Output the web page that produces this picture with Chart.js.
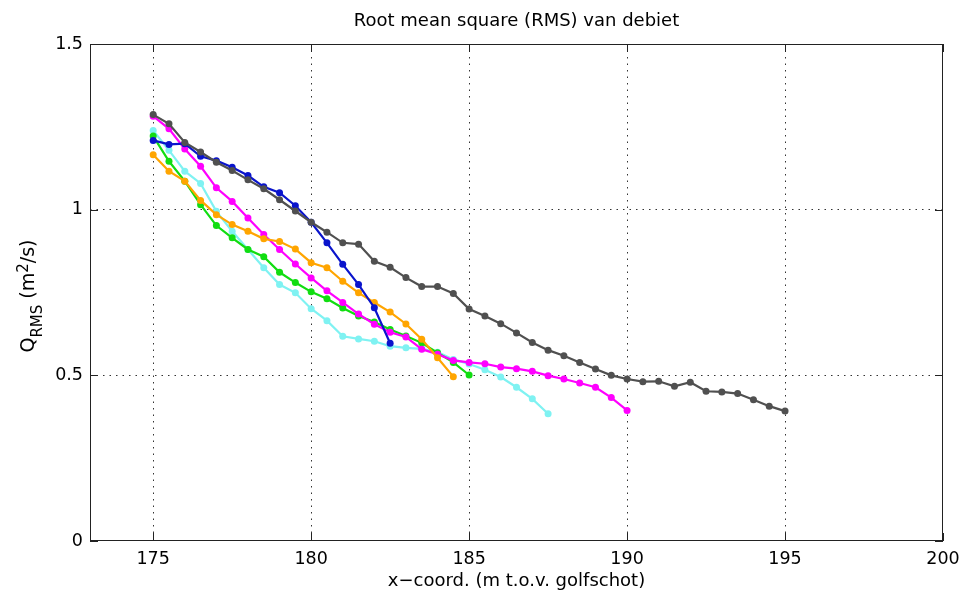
<!DOCTYPE html>
<html>
<head>
<meta charset="utf-8">
<title>Root mean square (RMS) van debiet</title>
<script src="https://cdn.jsdelivr.net/npm/chart.js@4/dist/chart.umd.min.js"></script>
<style>
    html, body { margin: 0; padding: 0; background: #fff; }
    #wrap { width: 963px; height: 596px; }
</style>
</head>
<body>
<div id="wrap"><canvas id="grafikRms" width="963" height="596"></canvas></div>
<script>
// =====================================================
// DATA
// =====================================================
const xPos = [175, 175.5, 176, 176.5, 177, 177.5, 178, 178.5, 179, 179.5,
              180, 180.5, 181, 181.5, 182, 182.5, 183, 183.5, 184, 184.5,
              185, 185.5, 186, 186.5, 187, 187.5, 188, 188.5, 189, 189.5,
              190, 190.5, 191, 191.5, 192, 192.5, 193, 193.5, 194, 194.5, 195];

const qGrijs = [1.287, 1.259, 1.203, 1.174, 1.143, 1.118, 1.090, 1.063, 1.030, 0.996,
                0.962, 0.932, 0.900, 0.896, 0.844, 0.826, 0.795, 0.768, 0.768, 0.747,
                0.700, 0.679, 0.656, 0.628, 0.599, 0.576, 0.559, 0.539, 0.519, 0.500,
                0.489, 0.481, 0.482, 0.467, 0.479, 0.452, 0.450, 0.445, 0.426, 0.407, 0.392];

const qBlauw = [1.209, 1.197, 1.199, 1.161, 1.148, 1.128, 1.103, 1.069, 1.051, 1.012,
                0.962, 0.900, 0.835, 0.774, 0.704, 0.597];

const qMagenta = [1.282, 1.244, 1.183, 1.131, 1.066, 1.025, 0.975, 0.925, 0.880, 0.836,
                  0.794, 0.755, 0.720, 0.685, 0.654, 0.630, 0.616, 0.579, 0.564, 0.545,
                  0.539, 0.535, 0.525, 0.520, 0.512, 0.499, 0.489, 0.477, 0.464, 0.433, 0.394];

const qOranje = [1.166, 1.116, 1.086, 1.028, 0.985, 0.955, 0.935, 0.912, 0.904, 0.881,
                 0.840, 0.825, 0.784, 0.749, 0.720, 0.691, 0.655, 0.609, 0.553, 0.496];

const qGroen = [1.222, 1.146, 1.086, 1.015, 0.952, 0.915, 0.880, 0.858, 0.811, 0.780,
                0.752, 0.731, 0.703, 0.679, 0.661, 0.638, 0.619, 0.598, 0.568, 0.539, 0.501];

const qCyaan = [1.239, 1.179, 1.116, 1.079, 0.995, 0.935, 0.880, 0.825, 0.774, 0.749,
                0.701, 0.665, 0.618, 0.610, 0.603, 0.588, 0.583, 0.580, 0.570, 0.548,
                0.534, 0.517, 0.495, 0.464, 0.429, 0.384];

const xTicks = [175, 180, 185, 190, 195, 200];
const yTicks = [0, 0.5, 1, 1.5];

const FONT = '"DejaVu Sans", "Liberation Sans", Arial, sans-serif';

// koppel y-waarden aan x-posities
function punten(waarden) {
    return waarden.map((q, i) => ({ x: xPos[i], y: q }));
}

function lijn(label, waarden, kleur) {
    return {
        label: label,
        data: punten(waarden),
        showLine: true,
        borderColor: kleur,
        backgroundColor: kleur,
        pointBackgroundColor: kleur,
        pointBorderColor: kleur,
        borderWidth: 2.2,
        pointRadius: 3.5,
        pointBorderWidth: 0,
        tension: 0
    };
}

// =====================================================
// KADER, TICKS EN Y-LABEL
// =====================================================
const kaderPlugin = {
    id: 'kader',
    afterDraw(chart) {
        const ctx = chart.ctx;
        const a = chart.chartArea;
        const sx = chart.scales.x;
        const sy = chart.scales.y;
        const tl = 8;

        ctx.save();
        ctx.strokeStyle = '#222';
        ctx.lineWidth = 1;
        ctx.setLineDash([]);
        ctx.strokeRect(a.left + 0.5, a.top + 0.5, a.right - a.left - 1, a.bottom - a.top - 1);

        ctx.beginPath();
        xTicks.forEach(v => {
            const px = Math.round(sx.getPixelForValue(v)) + 0.5;
            ctx.moveTo(px, a.bottom);
            ctx.lineTo(px, a.bottom - tl);
            ctx.moveTo(px, a.top);
            ctx.lineTo(px, a.top + tl);
        });
        yTicks.forEach(v => {
            const py = Math.round(sy.getPixelForValue(v)) + 0.5;
            ctx.moveTo(a.left, py);
            ctx.lineTo(a.left + tl, py);
            ctx.moveTo(a.right, py);
            ctx.lineTo(a.right - tl, py);
        });
        ctx.stroke();

        // y-as label: Q_RMS (m^2/s)
        const delen = [
            { t: 'Q', s: 19, dy: 0 },
            { t: 'RMS', s: 15, dy: 8 },
            { t: ' (m', s: 19, dy: 0 },
            { t: '2', s: 15, dy: -6 },
            { t: '/s)', s: 19, dy: 0 }
        ];
        let totaal = 0;
        delen.forEach(d => {
            ctx.font = d.s + 'px ' + FONT;
            d.w = ctx.measureText(d.t).width;
            totaal += d.w;
        });
        ctx.translate(34, 296);
        ctx.rotate(-Math.PI / 2);
        ctx.fillStyle = '#000';
        ctx.textBaseline = 'alphabetic';
        ctx.textAlign = 'left';
        let pos = -totaal / 2;
        delen.forEach(d => {
            ctx.font = d.s + 'px ' + FONT;
            ctx.fillText(d.t, pos, d.dy);
            pos += d.w;
        });
        ctx.restore();
    }
};

// =====================================================
// GRAFIEK
// =====================================================
const canvas = document.getElementById('grafikRms');
const ctx = canvas.getContext('2d');

const chartRms = new Chart(ctx, {
    type: 'scatter',
    data: {
        datasets: [
            lijn('grijs', qGrijs, '#505050'),
            lijn('blauw', qBlauw, '#0a14cc'),
            lijn('oranje', qOranje, '#ffa500'),
            lijn('magenta', qMagenta, '#ff00ff'),
            lijn('groen', qGroen, '#11dd11'),
            lijn('cyaan', qCyaan, '#7ff2f2')
        ]
    },
    options: {
        responsive: false,
        devicePixelRatio: 1,
        animation: false,
        layout: {
            padding: { left: 0, right: 20, top: 0, bottom: 0 }
        },
        plugins: {
            legend: { display: false },
            tooltip: { enabled: false },
            title: {
                display: true,
                text: 'Root mean square (RMS) van debiet',
                fullSize: false,
                color: '#000',
                font: { family: FONT, size: 18, weight: 'normal', lineHeight: 1.2 },
                padding: { top: 11, bottom: 11.4 }
            }
        },
        scales: {
            x: {
                type: 'linear',
                min: 173,
                max: 200,
                afterBuildTicks: s => { s.ticks = xTicks.map(v => ({ value: v })); },
                afterFit: s => {
                    s.height = 55;
                    s.paddingLeft = 0;
                    s.paddingRight = 0;
                },
                ticks: {
                    color: '#000',
                    font: { family: FONT, size: 17.5 },
                    padding: 8,
                    maxRotation: 0,
                    callback: v => String(v)
                },
                grid: {
                    color: ctx => (ctx.tick && ctx.tick.value === 200) ? 'rgba(0,0,0,0)' : '#333',
                    lineWidth: 1,
                    drawTicks: false
                },
                border: { display: false, dash: [1.5, 5] },
                title: {
                    display: true,
                    text: 'x\u2212coord. (m t.o.v. golfschot)',
                    color: '#000',
                    font: { family: FONT, size: 18, lineHeight: 1.2 },
                    padding: { top: 0, bottom: 4 }
                }
            },
            y: {
                type: 'linear',
                min: 0,
                max: 1.5,
                afterBuildTicks: s => { s.ticks = yTicks.map(v => ({ value: v })); },
                afterFit: s => {
                    s.width = 90;
                    s.paddingTop = 0;
                    s.paddingBottom = 0;
                },
                ticks: {
                    color: '#000',
                    font: { family: FONT, size: 17.5 },
                    padding: 7,
                    callback: v => String(v)
                },
                grid: {
                    color: ctx => (ctx.tick && (ctx.tick.value === 0 || ctx.tick.value === 1.5)) ? 'rgba(0,0,0,0)' : '#333',
                    lineWidth: 1,
                    drawTicks: false
                },
                border: { display: false, dash: [1.5, 5] }
            }
        }
    },
    plugins: [kaderPlugin]
});
</script>
</body>
</html>
